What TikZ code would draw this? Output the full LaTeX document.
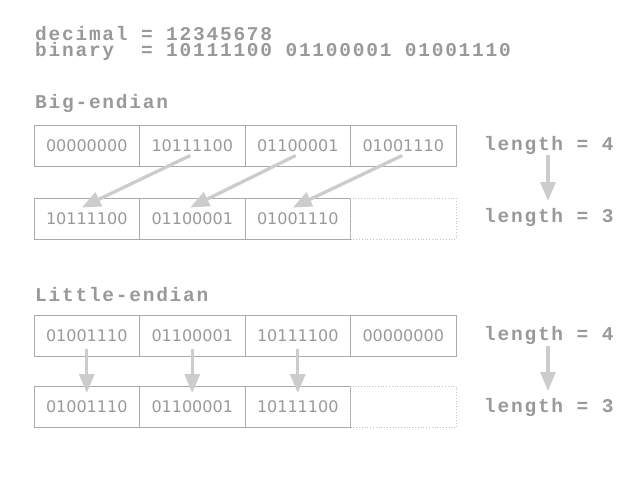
\documentclass[tikz,border=0pt]{standalone}
\usepackage{fontspec}
\usepackage{tikz}
\usetikzlibrary{arrows.meta}
\newfontfamily\headfont[LetterSpace=9]{Liberation Mono Bold}
\newfontfamily\cellfont{DejaVu Sans}
\definecolor{txtgray}{HTML}{999999}
\definecolor{boxgray}{HTML}{AAAAAA}
\definecolor{arrgray}{HTML}{CCCCCC}

\begin{document}
\begin{tikzpicture}[x=1pt,y=-1pt]
\tikzset{cell/.style={draw=boxgray, line width=0.8pt, minimum width=105.5pt, minimum height=41pt, inner sep=0pt}}
\tikzset{gap/.style={draw=boxgray!70, dotted, line width=0.8pt, minimum width=105.5pt, minimum height=41pt, inner sep=0pt}}
\tikzset{head/.style={anchor=base west, inner sep=0pt, text=txtgray, font=\headfont\fontsize{19.5}{19.5}\selectfont}}
\useasboundingbox (0,0) rectangle (640,480);

% headings
\node [head] (dec) at (35,40) {decimal = 12345678};
\node [head] (bin) at (35,56.5) {binary\ \ = 10111100 01100001 01001110};
\node [head] (big) at (35,108) {Big-endian};
\node [head] (little) at (35,301.5) {Little-endian};

\begin{scope}[every node/.style={text=txtgray, font=\cellfont\fontsize{16}{16}\selectfont}]
% big-endian
\node [cell] (bt1) at (86.75,145.5) {00000000};
\node [cell] (bt2) at (192.25,145.5) {10111100};
\node [cell] (bt3) at (297.75,145.5) {01100001};
\node [cell] (bt4) at (403.25,145.5) {01001110};
\node [cell] (bb1) at (86.75,218.5) {10111100};
\node [cell] (bb2) at (192.25,218.5) {01100001};
\node [cell] (bb3) at (297.75,218.5) {01001110};
\node [gap] (bb4) at (403.25,218.5) {};
% little-endian
\node [cell] (lt1) at (86.75,335.5) {01001110};
\node [cell] (lt2) at (192.25,335.5) {01100001};
\node [cell] (lt3) at (297.75,335.5) {10111100};
\node [cell] (lt4) at (403.25,335.5) {00000000};
\node [cell] (lb1) at (86.75,407) {01001110};
\node [cell] (lb2) at (192.25,407) {01100001};
\node [cell] (lb3) at (297.75,407) {10111100};
\node [gap] (lb4) at (403.25,407) {};
\end{scope}

\node [head] (bl4) at (484,150) {length = 4};
\node [head] (bl3) at (484,222) {length = 3};
\node [head] (ll4) at (484,340) {length = 4};
\node [head] (ll3) at (484,412) {length = 3};

\begin{scope}[>={Triangle[length=19pt,width=15pt]},every edge/.style={draw=arrgray,line width=3.3pt,->}]
\path ([xshift=-2pt,yshift=-10pt]bt2.center) edge ([xshift=-5pt,yshift=11pt]bb1.center);
\path ([xshift=-2pt,yshift=-10pt]bt3.center) edge ([xshift=-2pt,yshift=11pt]bb2.center);
\path ([xshift=-1pt,yshift=-10pt]bt4.center) edge ([xshift=-5pt,yshift=11pt]bb3.center);
\path ([yshift=-13pt]lt1.center) edge ([yshift=14pt]lb1.center);
\path ([yshift=-13pt]lt2.center) edge ([yshift=14pt]lb2.center);
\path ([yshift=-13pt]lt3.center) edge ([yshift=14pt]lb3.center);
\path ([xshift=64pt,yshift=-5pt]bl4.base west) edge ([xshift=64pt,yshift=21pt]bl3.base west);
\path ([xshift=64pt,yshift=-6pt]ll4.base west) edge ([xshift=64pt,yshift=21pt]ll3.base west);
\end{scope}

\end{tikzpicture}
\end{document}
